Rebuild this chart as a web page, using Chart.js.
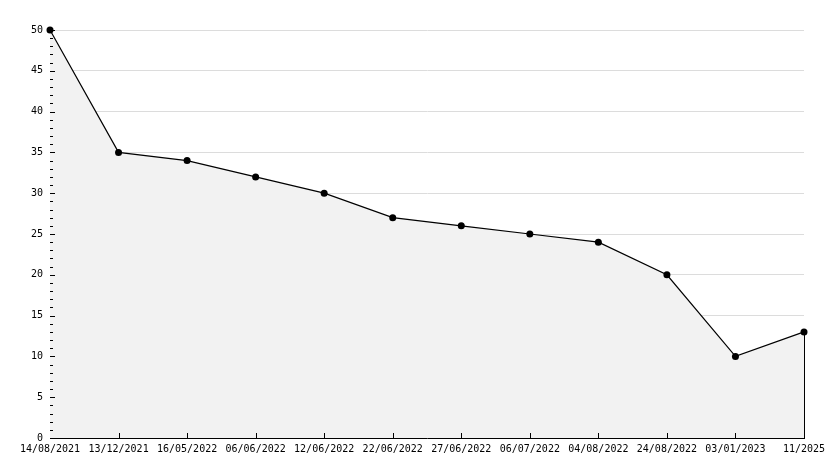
<!DOCTYPE html>
<html>
<head>
<meta charset="utf-8">
<script src="https://cdn.jsdelivr.net/npm/chart.js@4"></script>
<style>
  html, body { margin: 0; padding: 0; background: #fff; }
  #wrap { width: 834px; height: 468px; }
</style>
</head>
<body>
<div id="wrap"><canvas id="chart"></canvas></div>
<script>
const dates = ["14/08/2021", "13/12/2021", "16/05/2022", "06/06/2022", "12/06/2022", "22/06/2022",
  "27/06/2022", "06/07/2022", "04/08/2022", "24/08/2022", "03/01/2023", "11/2025"];
const values = [50, 35, 34, 32, 30, 27, 26, 25, 24, 20, 10, 13];

// tick marks drawn inside the plot, plus the closing line on the right
const innerTicks = {
  id: "innerTicks",
  afterDatasetsDraw(chart) {
    const { ctx, chartArea, scales } = chart;
    const x = scales.x, y = scales.y;
    ctx.save();
    ctx.strokeStyle = "#000";
    ctx.lineWidth = 1;
    ctx.beginPath();
    for (let v = 0; v <= 50; v++) {
      const py = Math.round(y.getPixelForValue(v)) + 0.5;
      const len = v % 5 === 0 ? 5 : 3;
      ctx.moveTo(chartArea.left, py);
      ctx.lineTo(chartArea.left + len, py);
    }
    for (let i = 1; i < dates.length - 1; i++) {
      const px = Math.round(x.getPixelForValue(i)) + 0.5;
      ctx.moveTo(px, chartArea.bottom);
      ctx.lineTo(px, chartArea.bottom - 5);
    }
    const last = values.length - 1;
    const rx = Math.round(x.getPixelForValue(last)) + 0.5;
    ctx.moveTo(rx, y.getPixelForValue(values[last]));
    ctx.lineTo(rx, chartArea.bottom);
    ctx.stroke();
    ctx.restore();
  }
};

new Chart(document.getElementById("chart"), {
  type: "line",
  data: {
    labels: dates,
    datasets: [{
      data: values,
      borderColor: "#000",
      borderWidth: 1.2,
      backgroundColor: "#f2f2f2",
      fill: "origin",
      tension: 0,
      clip: false,
      pointStyle: "circle",
      pointRadius: 3.5,
      pointBackgroundColor: "#000",
      pointBorderColor: "#000",
      pointBorderWidth: 0
    }]
  },
  options: {
    responsive: true,
    maintainAspectRatio: false,
    animation: false,
    layout: { padding: { top: 30, right: 30, left: 0, bottom: 0 } },
    plugins: { legend: { display: false }, tooltip: { enabled: false } },
    scales: {
      x: {
        offset: false,
        grid: { display: false, drawTicks: false },
        border: { display: true, color: "#000", width: 1 },
        ticks: {
          color: "#000",
          font: { family: "DejaVu Sans Mono", size: 10 },
          maxRotation: 0,
          autoSkip: false,
          padding: 5
        },
        afterFit(scale) { scale.height = 30; }
      },
      y: {
        min: 0,
        max: 50,
        grid: { color: "#dcdcdc", drawTicks: false },
        border: { display: true, color: "#000", width: 1 },
        ticks: {
          stepSize: 5,
          color: "#000",
          font: { family: "DejaVu Sans Mono", size: 10 },
          padding: 7
        },
        afterFit(scale) { scale.width = 50; }
      }
    }
  },
  plugins: [innerTicks]
});
</script>
</body>
</html>
